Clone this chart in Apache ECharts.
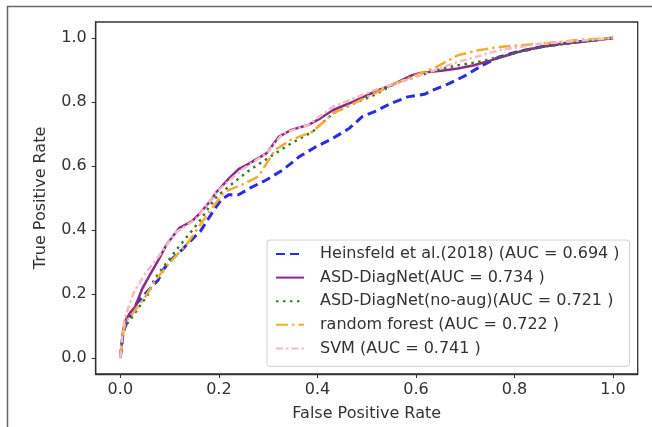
<!DOCTYPE html>
<html><head><meta charset="utf-8">
<script src="https://cdn.jsdelivr.net/npm/echarts@6/dist/echarts.min.js"></script>
<style>html,body{margin:0;padding:0;background:#fff}#c{width:652px;height:427px}</style>
</head><body><div id="c"></div>
<script>
const xTicks = [0, 0.2, 0.4, 0.6, 0.8, 1.0];
const yTicks = [0, 0.2, 0.4, 0.6, 0.8, 1.0];
const seriesNames = [
  'Heinsfeld et al.(2018) (AUC = 0.694 )',
  'ASD-DiagNet(AUC = 0.734 )',
  'ASD-DiagNet(no-aug)(AUC = 0.721 )',
  'random forest (AUC = 0.722 )',
  'SVM (AUC = 0.741 )'
];
const heinsfeldFpr = [0, 0.005, 0.01, 0.02, 0.033, 0.05, 0.077, 0.087, 0.105, 0.125, 0.145, 0.162, 0.189, 0.205, 0.22, 0.24, 0.263, 0.297, 0.33, 0.364, 0.398, 0.432, 0.465, 0.491, 0.516, 0.55, 0.583, 0.617, 0.634, 0.668, 0.702, 0.735, 0.769, 0.803, 0.853, 0.895, 0.94, 1.0];
const heinsfeldTpr = [0, 0.07, 0.1, 0.13, 0.17, 0.2, 0.244, 0.276, 0.31, 0.338, 0.37, 0.395, 0.46, 0.495, 0.51, 0.51, 0.531, 0.557, 0.588, 0.63, 0.661, 0.687, 0.718, 0.754, 0.77, 0.796, 0.816, 0.824, 0.837, 0.858, 0.884, 0.915, 0.941, 0.956, 0.972, 0.982, 0.99, 1.0];
const diagnetFpr = [0, 0.005, 0.01, 0.02, 0.03, 0.044, 0.06, 0.078, 0.094, 0.12, 0.145, 0.162, 0.179, 0.196, 0.221, 0.24, 0.263, 0.297, 0.322, 0.347, 0.381, 0.406, 0.432, 0.465, 0.516, 0.558, 0.592, 0.609, 0.651, 0.685, 0.718, 0.752, 0.786, 0.82, 0.853, 0.895, 0.938, 1.0];
const diagnetTpr = [0, 0.08, 0.116, 0.142, 0.16, 0.215, 0.26, 0.308, 0.355, 0.407, 0.427, 0.453, 0.484, 0.52, 0.562, 0.59, 0.609, 0.64, 0.692, 0.713, 0.728, 0.749, 0.775, 0.796, 0.832, 0.858, 0.884, 0.891, 0.898, 0.905, 0.915, 0.93, 0.946, 0.962, 0.972, 0.982, 0.988, 1.0];
const noAugFpr = [0, 0.005, 0.01, 0.025, 0.044, 0.054, 0.069, 0.094, 0.12, 0.141, 0.162, 0.179, 0.196, 0.229, 0.263, 0.305, 0.347, 0.39, 0.432, 0.474, 0.516, 0.558, 0.6, 0.642, 0.685, 0.727, 0.769, 0.853, 0.938, 1.0];
const noAugTpr = [0, 0.07, 0.1, 0.13, 0.173, 0.192, 0.246, 0.298, 0.35, 0.39, 0.43, 0.469, 0.505, 0.547, 0.588, 0.63, 0.671, 0.707, 0.765, 0.796, 0.822, 0.858, 0.879, 0.9, 0.915, 0.925, 0.941, 0.972, 0.988, 1.0];
const rfFpr = [0, 0.005, 0.01, 0.025, 0.05, 0.07, 0.094, 0.137, 0.179, 0.212, 0.246, 0.28, 0.314, 0.347, 0.39, 0.432, 0.474, 0.516, 0.567, 0.6, 0.642, 0.685, 0.727, 0.769, 0.811, 0.853, 0.938, 1.0];
const rfTpr = [0, 0.07, 0.11, 0.14, 0.19, 0.24, 0.287, 0.36, 0.454, 0.52, 0.541, 0.567, 0.65, 0.682, 0.707, 0.765, 0.796, 0.827, 0.863, 0.884, 0.91, 0.946, 0.962, 0.972, 0.977, 0.982, 0.995, 1.0];
const svmFpr = [0, 0.005, 0.01, 0.027, 0.052, 0.078, 0.111, 0.153, 0.196, 0.246, 0.297, 0.33, 0.381, 0.432, 0.516, 0.6, 0.685, 0.769, 0.853, 1.0];
const svmTpr = [0, 0.09, 0.13, 0.204, 0.267, 0.318, 0.391, 0.433, 0.52, 0.588, 0.64, 0.702, 0.728, 0.786, 0.837, 0.879, 0.925, 0.962, 0.982, 1.0];

const zip = (a, b) => a.map((v, i) => [v, b[i]]);
const FONT = 'DejaVu Sans';
const styles = [
  { color: '#2b2be0', width: 3, type: [9, 5], cap: 'butt' },
  { color: '#8b2a8b', width: 2.5, type: 'solid', cap: 'butt' },
  { color: '#2e7d2e', width: 2.5, type: [2.5, 4.5], cap: 'butt' },
  { color: '#f2ad2e', width: 2.5, type: [12, 4, 2.5, 4], cap: 'butt' },
  { color: '#f7b9c8', width: 2.5, type: [7, 3, 2.5, 3], cap: 'butt' }
];
const dataSets = [
  zip(heinsfeldFpr, heinsfeldTpr),
  zip(diagnetFpr, diagnetTpr),
  zip(noAugFpr, noAugTpr),
  zip(rfFpr, rfTpr),
  zip(svmFpr, svmTpr)
];

const chart = echarts.init(document.getElementById('c'), null, { renderer: 'canvas' });
const axisCommon = {
  type: 'value', min: -0.05, max: 1.05,
  splitLine: { show: false },
  axisLine: { show: true, onZero: false, lineStyle: { color: '#333', width: 1.3 } },
  axisTick: { show: true, inside: false, length: 4, lineStyle: { color: '#333', width: 1 } },
  nameLocation: 'middle',
  nameTextStyle: { fontFamily: FONT, fontSize: 16, color: '#333' }
};
chart.setOption({
  animation: false,
  backgroundColor: '#fff',
  grid: { left: 95.7, top: 22, right: 14.3, bottom: 52.7, show: true, borderColor: '#333', borderWidth: 1.3, containLabel: false },
  xAxis: Object.assign({}, axisCommon, {
    name: 'False Positive Rate', nameGap: 32,
    axisTick: Object.assign({}, axisCommon.axisTick, { customValues: xTicks }),
    axisLabel: { customValues: xTicks, margin: 8, fontFamily: FONT, fontSize: 16, color: '#333', formatter: v => v.toFixed(1) }
  }),
  yAxis: Object.assign({}, axisCommon, {
    name: 'True Positive Rate', nameGap: 47,
    axisTick: Object.assign({}, axisCommon.axisTick, { customValues: yTicks }),
    axisLabel: { customValues: yTicks, margin: 9, fontFamily: FONT, fontSize: 16, color: '#333', formatter: v => v.toFixed(1) }
  }),
  legend: {
    orient: 'vertical', left: 267, top: 240,
    padding: [5, 10, 9, 8],
    backgroundColor: 'rgba(255,255,255,0.85)', borderColor: '#d0d0d0', borderWidth: 1, borderRadius: 3,
    itemWidth: 28, itemHeight: 14, itemGap: 5.6,
    itemStyle: { opacity: 0 },
    textStyle: { fontFamily: FONT, fontSize: 16, color: '#333', lineHeight: 18, padding: [0, 0, 0, 11] },
    data: seriesNames
  },
  graphic: [{
    type: 'polyline', silent: true,
    shape: { points: [[7.5, 427], [7.5, 6.5], [652, 6.5]] },
    style: { stroke: '#666', lineWidth: 1.5, fill: null }
  }],
  series: seriesNames.map((n, i) => ({
    name: n, type: 'line', data: dataSets[i], symbol: 'none', showSymbol: false,
    z: 2 + i, clip: true,
    lineStyle: { color: styles[i].color, width: styles[i].width, type: styles[i].type, cap: styles[i].cap },
    itemStyle: { color: styles[i].color }
  }))
});
</script></body></html>
